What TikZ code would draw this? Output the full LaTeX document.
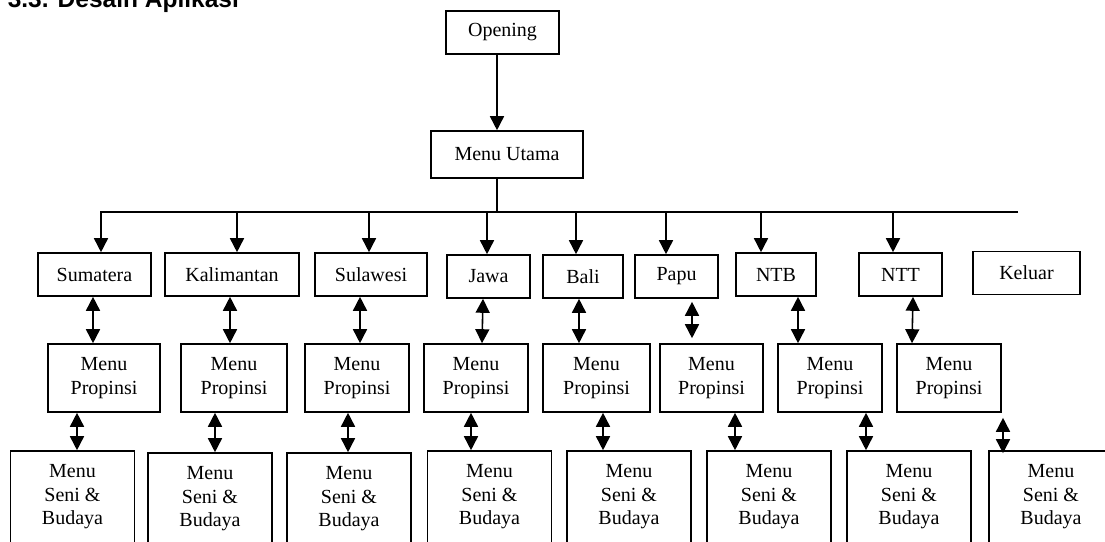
\documentclass[tikz,border=0pt]{standalone}
\usepackage{fontspec}
\setmainfont{Liberation Serif}
\newfontfamily\headfont{Liberation Sans}
\usetikzlibrary{arrows.meta}

\begin{document}
\begin{tikzpicture}[x=1pt,y=-1pt,>={Triangle[length=14pt,width=14pt]},
line width=1.6pt]
\tikzstyle{menubox}=[draw,line width=1.6pt,inner sep=0pt,align=center,font=\fontsize{20}{23.5}\selectfont]
\tikzstyle{pulau}=[menubox,minimum height=43pt]
\tikzstyle{propinsi}=[menubox,minimum height=68pt]
\tikzstyle{seni}=[menubox,minimum width=124pt,minimum height=92pt]

\useasboundingbox (0,0) rectangle (1105,541);
\clip (0,0) rectangle (1105,541);

\node[anchor=base west,inner sep=0pt,font=\headfont\bfseries\fontsize{24.5}{28}\selectfont] (judul) at (7,7) {3.3. Desain Aplikasi};

\node[menubox,minimum width=113pt,minimum height=43pt] (O) at (502.5,32.5) {Opening};
\node[menubox,minimum width=152pt,minimum height=47pt] (U) at (507,154.5) {Menu Utama};

% pulau
\node[pulau,minimum width=113pt] (sum) at (94.5,274.5) {Sumatera};
\node[pulau,minimum width=134pt] (kal) at (232,274.5) {Kalimantan};
\node[pulau,minimum width=112pt] (sul) at (371,274.5) {Sulawesi};
\node[pulau,minimum width=83pt]  (jaw) at (488.5,276.5) {Jawa};
\node[pulau,minimum width=80pt]  (bal) at (583,276.5) {Bali};
\node[pulau,minimum width=83pt]  (pap) at (676.5,276.5) {Papu};
\node[pulau,minimum width=80pt]  (ntb) at (776,274.5) {NTB};
\node[pulau,minimum width=83pt]  (ntt) at (900.5,274.5) {NTT};
\node[pulau,minimum width=107pt] (kel) at (1026.5,273) {Keluar};

% menu propinsi
\foreach \i/\xc/\w in {1/104/112,2/234/106,3/357/104,4/476/104,5/596.5/107,6/711.5/103,7/830/104,8/949/104}
  \node[propinsi,minimum width=\w pt] (P\i) at (\xc,378) {Menu\\Propinsi};

% menu seni & budaya
\foreach \i/\xc/\yc in {1/72.5/497,2/210/499,3/349/499,4/489.5/497,5/629/497,6/769/497,7/909/497,8/1051/497}
  \node[seni] (S\i) at (\xc,\yc) {Menu\\Seni \&\\Budaya};

\draw[->] ([xshift=-5.5pt]O.south) -- ([xshift=-10pt]U.north);
\coordinate (busL) at (101,212);
\coordinate (busR) at (1018,212);
\draw ([xshift=-10pt]U.south) -- ([xshift=-10pt]U.south |- busL);
\draw[->] (busR) -- (busL) -- ([xshift=6.5pt]sum.north);
\foreach \a/\da in {kal/5,sul/-2,jaw/-1.5,bal/-7,pap/-10.5,ntb/-15,ntt/-7.5}
  \draw[<-] ([xshift=\da pt]\a.north) -- ([xshift=\da pt]\a.north |- busL);

\foreach \a/\b/\da/\db in {sum/P1/-1.5/-11,kal/P2/-2/-4,sul/P3/-11/3,jaw/P4/-5.5/6,bal/P5/-4/-17.5,ntb/P7/22/-32,ntt/P8/12.5/-37}
  \draw[<->] ([xshift=\da pt]\a.south) -- ([xshift=\db pt]\b.north);
\draw[<->,shorten <=3pt,shorten >=5pt] ([xshift=15.5pt]pap.south) -- ([xshift=-19.5pt]P6.north);

\foreach \i/\da/\db in {1/-27/4.5,2/-19/5,3/-9/-1,4/-5/-18.5,5/6.5/-26,6/23.5/-34,7/36/-43}
  \draw[<->] ([xshift=\da pt]P\i.south) -- ([xshift=\db pt]S\i.north);
\draw[<->,shorten <=5pt,shorten >=-3pt] ([xshift=54pt]P8.south) -- ([xshift=-48pt]S8.north);
\end{tikzpicture}
\end{document}
